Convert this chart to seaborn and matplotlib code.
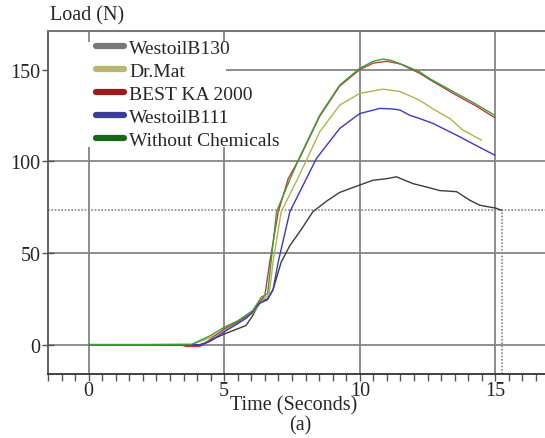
import matplotlib
matplotlib.use("Agg")
import matplotlib.pyplot as plt
from matplotlib.lines import Line2D
from matplotlib.patches import Rectangle
import seaborn as sns

# series names, in legend order
names = ["WestoilB130", "Dr.Mat", "BEST KA 2000", "WestoilB111", "Without Chemicals"]

# time (s) and load (N), one pair per series
t_b130 = [0, 2.0, 4.0, 4.3, 5.0, 5.8, 6.05, 6.3, 6.6, 6.8, 7.1, 7.42, 7.85, 8.27, 8.8,
          9.26, 9.9, 10.48, 11.0, 11.35, 11.96, 12.5, 12.95, 13.57, 14.06, 14.43, 14.8,
          15.0, 15.24]
load_b130 = [0, 0, -0.5, 1, 5.8, 10.4, 15.8, 23, 25, 30, 45, 54, 63, 72.5, 78.5,
             83, 86.5, 89.6, 90.5, 91.5, 87.8, 85.8, 84, 83.4, 78.7, 76, 75,
             74.5, 73.2]

t_drmat = [0, 2.0, 3.8, 4.5, 5.0, 5.5, 6.05, 6.2, 6.45, 6.65, 6.8, 7.1, 7.71, 8.52,
           9.26, 10.0, 10.85, 11.48, 12.2, 12.7, 13.32, 13.8, 14.49]
load_drmat = [0, 0, 0, 4, 7.7, 12, 17, 20, 25, 27, 45, 72.5, 90.5, 116,
              130.6, 137, 139.3, 138, 133.3, 128.5, 123.3, 117, 111.5]

t_best = [0, 2.0, 3.4, 3.6, 4.1, 4.5, 5.0, 5.5, 6.05, 6.2, 6.5, 6.68, 6.99, 7.36,
          7.79, 8.52, 9.26, 10.0, 10.5, 11.0, 11.5, 12.2, 12.58, 13.5, 14.3, 14.98]
load_best = [0, 0, 0, -1, -1, 3, 8.6, 12.5, 17.5, 21, 27, 45, 72.3, 90.5,
             102, 124.5, 141, 150, 153.5, 154.5, 153, 148, 144.5, 136.5, 130, 123.7]

t_b111 = [0, 2.0, 4.2, 4.5, 5.0, 5.5, 5.82, 6.1, 6.3, 6.6, 6.8, 6.99, 7.42, 8.03,
          8.4, 9.26, 10.0, 10.74, 11.2, 11.48, 11.85, 12.2, 12.7, 13.69, 14.3, 14.98]
load_b111 = [0, 0, 0, 2, 7, 11.5, 14.5, 19, 22.5, 24.5, 30, 45, 72.5, 90.5,
             101.5, 117.9, 126, 128.8, 128.5, 127.9, 125, 123.3, 120.6, 113.3, 108.5, 103.3]

t_none = [0, 2.0, 3.8, 4.5, 5.0, 5.5, 6.05, 6.2, 6.37, 6.6, 6.74, 6.93, 7.42, 7.79,
          8.52, 9.26, 10.0, 10.5, 10.85, 11.15, 11.6, 12.2, 12.58, 13.5, 14.3, 14.98]
load_none = [0, 0, 0.2, 5, 9.5, 13, 18.6, 22, 26, 27.7, 47, 72.5, 90, 102.5,
             125, 141.5, 150.7, 154.5, 155.7, 155, 152.5, 148.8, 145, 137.5, 131, 125]

times = [t_b130, t_drmat, t_best, t_b111, t_none]
loads = [load_b130, load_drmat, load_best, load_b111, load_none]

line_colors = ["#3c3c3c", "#b2b250", "#c23a3a", "#3a3abf", "#36a236"]
legend_colors = ["#777777", "#b9b76c", "#981c1c", "#3c3c9c", "#186818"]

x_ticks = [0, 5, 10, 15]
y_ticks = [0, 50, 100, 150]

sns.set_style("white")
plt.rcParams["font.family"] = ["Liberation Serif", "DejaVu Serif"]

fig = plt.figure(figsize=(5.45, 4.39), dpi=100)
ax = fig.add_axes([48 / 545, 1 - 375 / 439, 497 / 545, 343 / 439])

for t, y, c in zip(times, loads, line_colors):
    sns.lineplot(x=t, y=y, ax=ax, color=c, lw=1.0, sort=False, legend=False, zorder=3)

# dotted crosshair at the end point of the first series
ax.axhline(load_b130[-1], color="#888888", lw=1.2, ls=(0, (1, 1)), zorder=1)
ax.vlines(t_b130[-1], -16, load_b130[-1], color="#888888", lw=1.2, ls=(0, (1, 1)), zorder=1)

ax.set_xlim(-1.5, 16.83)
ax.set_ylim(-16, 171)
ax.set_xticks(x_ticks)
ax.set_xticks([v / 2 for v in range(-3, 34)], minor=True)
ax.set_yticks(y_ticks)
ax.grid(True, which="major", color="#858585", lw=1.3)
ax.set_axisbelow(True)

ax.tick_params(axis="x", which="both", direction="out", length=5, width=1,
               color="#555555", labelsize=14.5, pad=0, bottom=True)
ax.tick_params(axis="y", direction="inout", length=9, width=1, color="#555555",
               labelsize=14.5, pad=1, left=True)

ax.spines["right"].set_visible(False)
ax.spines["top"].set_color("#777777")
ax.spines["top"].set_linewidth(1.5)
ax.spines["left"].set_color("#555555")
ax.spines["left"].set_linewidth(1.3)
ax.spines["bottom"].set_color("#333333")
ax.spines["bottom"].set_linewidth(1.3)

# white box behind the legend
ax.add_patch(Rectangle((0, (375 - 148) / 343), 178 / 497, 105 / 343,
                       transform=ax.transAxes, facecolor="white", edgecolor="none",
                       zorder=1.5))

handles = [Line2D([0], [0], color=c, lw=4.5, solid_capstyle="round") for c in legend_colors]
fig.legend(handles, names, loc="upper left", bbox_to_anchor=(96 / 545, 1 - 40 / 439),
           frameon=False, fontsize=14, handlelength=1.45, handletextpad=0.25,
           labelspacing=0.28, borderpad=0, borderaxespad=0)

fig.text(50 / 545, 1 - 16 / 439, "Load (N)", fontsize=14.5, ha="left", va="center")
fig.text(294 / 545, 1 - 406 / 439, "Time (Seconds)", fontsize=14.5, ha="center", va="center")
fig.text(300 / 545, 1 - 426 / 439, "(a)", fontsize=14.5, ha="center", va="center")

fig.savefig("out.png", dpi=100)
